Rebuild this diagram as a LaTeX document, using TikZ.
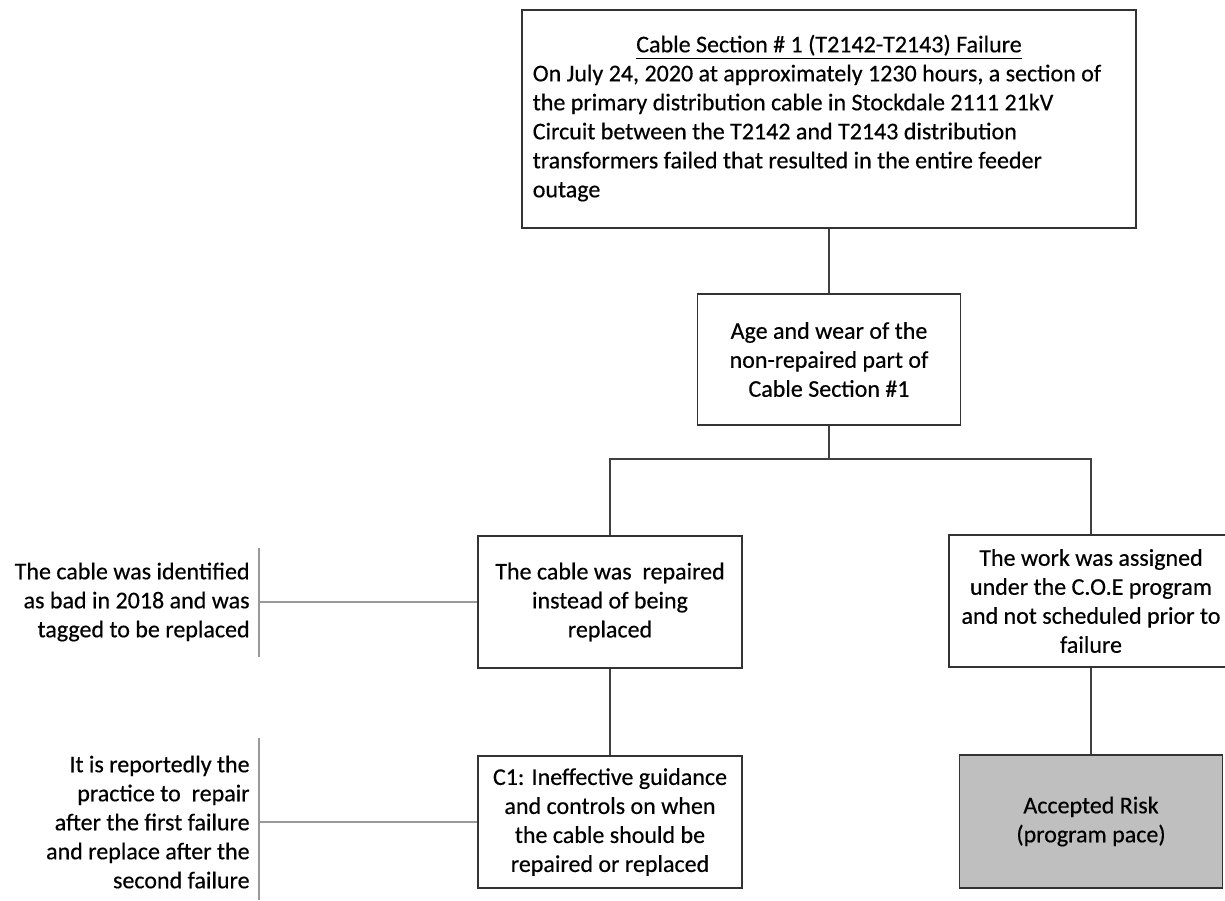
\documentclass[tikz,border=0pt]{standalone}
\usepackage{fontspec}
\setmainfont{Carlito}[UprightFeatures={FakeBold=0.4}]
\begin{document}
\begin{tikzpicture}[x=0.5pt,y=-0.5pt,
  every node/.style={font=\fontsize{12}{14.5}\selectfont},
  box/.style={draw=black!80,line width=0.9pt,fill=white,minimum width=132pt,minimum height=66pt,align=center,inner sep=2pt},
  link/.style={draw=black!75,line width=0.8pt},
  note/.style={align=right,inner sep=0pt,anchor=east},
  bar/.style={draw=black!40,line width=0.6pt}]
\useasboundingbox (0,0) rectangle (1225,900);

\node[box,minimum width=307pt,minimum height=109pt] (fail) at (829,119)
  {\begin{tabular}{@{}l@{\hspace{12pt}}}
   \multicolumn{1}{@{}c@{\hspace{12pt}}}{\hspace*{12pt}\underline{Cable Section \# 1 (T2142-T2143) Failure}}\\
   On July 24, 2020 at approximately 1230 hours, a section of\\
   the primary distribution cable in Stockdale 2111 21kV\\
   Circuit between the T2142 and T2143 distribution\\
   transformers failed that resulted in the entire feeder\\
   outage
   \end{tabular}};
\node[box,minimum width=131.5pt,minimum height=65.5pt] (age) at (829,359.5) {Age and wear of the\\non-repaired part of\\Cable Section \#1};
\node[box] (repair) at (610,602) {The cable was\ \ repaired\\instead of being\\replaced};
\node[box,minimum width=142pt] (assign) at (1091,601) {The work was assigned\\under the C.O.E program\\and not scheduled prior to\\failure};
\node[box] (c1) at (610,822) {C1: Ineffective guidance\\and controls on when\\the cable should be\\repaired or replaced};
\node[box,fill=black!25,minimum width=131.5pt,minimum height=66.5pt] (risk) at (1091,821.5) {Accepted Risk\\(program pace)};

% side notes
\node[note] (n1) at (250,602) {The cable was identified\\as bad in 2018 and was\\tagged to be replaced};
\node[note] (n2) at (250,822) {It is reportedly the\\practice to\ \ repair\\after the first failure\\and replace after the\\second failure};

\coordinate (k1) at (259,602);
\coordinate (k2) at (259,822);
\draw[bar] (259,548) -- (259,657);
\draw[bar] (259,738) -- (259,900);
\draw[bar] (k1) -- (repair.west);
\draw[bar] (k2) -- (c1.west);

% tree
\coordinate (split) at (829,459);
\draw[link] (fail.south) -- (age.north);
\draw[link] (age.south) -- (split);
\draw[link] (split) -| (repair.north);
\draw[link] (split) -| (assign.north);
\draw[link] (repair.south) -- (c1.north);
\draw[link] (assign.south) -- (risk.north);

\end{tikzpicture}
\end{document}
